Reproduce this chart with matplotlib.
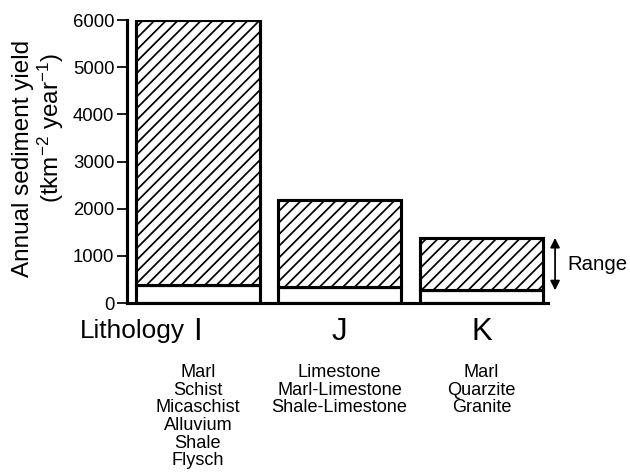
import numpy as np
import matplotlib.pyplot as plt
import matplotlib.transforms as mtransforms

plt.rcParams['font.family'] = ['Liberation Sans', 'DejaVu Sans']
plt.rcParams['mathtext.fontset'] = 'custom'
plt.rcParams['mathtext.rm'] = 'Liberation Sans'
plt.rcParams['mathtext.it'] = 'Liberation Sans:italic'
plt.rcParams['hatch.linewidth'] = 0.9

lithology = ["I", "J", "K"]
rocks = ["Marl\nSchist\nMicaschist\nAlluvium\nShale\nFlysch",
         "Limestone\nMarl-Limestone\nShale-Limestone",
         "Marl\nQuarzite\nGranite"]
yield_low = [380, 330, 270]
yield_high = [6000, 2180, 1380]
yticks = [0, 1000, 2000, 3000, 4000, 5000, 6000]

fig = plt.figure(figsize=(4.5, 472 / 140), dpi=140)
ax = fig.add_axes([0.2016, 0.358, 0.6682, 0.5996])

xpos = np.arange(len(lithology))
bar_width = 0.87

# white lower part, hatched range above
ax.bar(xpos, yield_low, width=bar_width, bottom=0, color="white",
       edgecolor="black", linewidth=1.6, zorder=2)
ax.bar(xpos, np.array(yield_high) - np.array(yield_low), width=bar_width,
       bottom=yield_low, color="white", edgecolor="black", hatch="////",
       linewidth=1.6, zorder=2)

ax.set_xlim(-0.5, 2.47)
ax.set_ylim(0, 6000)
ax.set_yticks(yticks)
ax.tick_params(axis='y', direction='out', length=5, width=0.9, pad=1.5,
               labelsize=9.5)
ax.set_xticks(xpos, lithology, fontsize=16)
ax.tick_params(axis='x', length=0, pad=7)
ax.spines['top'].set_visible(False)
ax.spines['right'].set_visible(False)
ax.spines['left'].set_linewidth(1.6)
ax.spines['bottom'].set_linewidth(1.6)

fig.text(0.037, 0.665, "Annual sediment yield", rotation=90,
         ha='center', va='center', fontsize=12.5)
fig.text(0.080, 0.728, r"(tkm$^{-2}$ year$^{-1}$)", rotation=90,
         ha='center', va='center', fontsize=12.5)

fig.text(0.127, 1 - 338 / 472, "Lithology", ha='left', va='baseline',
         fontsize=13.5)

trans = mtransforms.blended_transform_factory(ax.transData, fig.transFigure)
for x, r in zip(xpos, rocks):
    ax.text(x, 1 - 364 / 472, r, transform=trans, ha='center', va='top',
            fontsize=9.3, linespacing=1.05)

# range arrow next to K
ax.annotate("", xy=(2.52, yield_high[2]), xytext=(2.52, yield_low[2]),
            arrowprops=dict(arrowstyle='<|-|>', color='black', lw=0.9,
                            mutation_scale=10, shrinkA=0, shrinkB=0),
            annotation_clip=False)
ax.text(2.61, (yield_high[2] + yield_low[2]) / 2, "Range", ha='left',
        va='center', fontsize=10.5, clip_on=False)

plt.savefig('out.png', dpi=140)
